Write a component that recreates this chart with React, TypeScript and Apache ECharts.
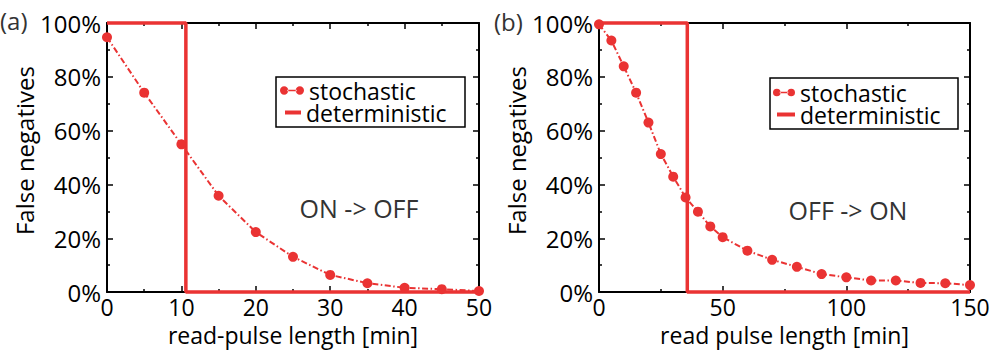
import React, { useEffect, useRef } from "react";
import * as echarts from "echarts";

const FONT = '"Open Sans", "Noto Sans", sans-serif';
const RED = "#ea3333";

// Panel (a): ON -> OFF
const xA = [0, 5, 10, 15, 20, 25, 30, 35, 40, 45, 50];
const stochA = [94.7, 74.1, 54.9, 35.8, 22.3, 13.1, 6.4, 3.3, 1.6, 1.1, 0.4];
const detAx = [0, 10.6, 10.6, 50];
const detAy = [100, 100, 0, 0];

// Panel (b): OFF -> ON
const xB = [0, 5, 10, 15, 20, 25, 30, 35, 40, 45, 50, 60, 70, 80, 90, 100, 110, 120, 130, 140, 150];
const stochB = [99.5, 93.5, 83.9, 74.1, 63.0, 51.3, 42.9, 35.2, 29.9, 24.4, 20.4, 15.4, 12.0, 9.4, 6.7, 5.5, 4.3, 4.3, 3.4, 3.3, 2.6];
const detBx = [0, 35.7, 35.7, 150];
const detBy = [100, 100, 0, 0];

const yTicks = { min: 0, max: 100, interval: 20 };
const xTicksA = { min: 0, max: 50, interval: 10 };
const xTicksB = { min: 0, max: 150, interval: 50 };

const STOCH_ICON =
  "path://M0,5a4.5,4.5 0 1,0 9,0a4.5,4.5 0 1,0 -9,0zM17,5a4.5,4.5 0 1,0 9,0a4.5,4.5 0 1,0 -9,0zM8,4.2h10v1.6h-10z";

const zip = (xs: number[], ys: number[]) => xs.map((x, i) => [x, ys[i]]);

function xAxisPair(grid: number, t: { min: number; max: number; interval: number }, name: string) {
  const common = {
    type: "value" as const,
    gridIndex: grid,
    min: t.min,
    max: t.max,
    interval: t.interval,
    splitLine: { show: false },
    axisLine: { show: true, onZero: false, lineStyle: { color: "#000", width: 2 } },
    axisTick: { show: true, inside: true, length: 6, lineStyle: { color: "#000", width: 1.5 } },
    minorTick: { show: true, splitNumber: 2, length: 3, lineStyle: { color: "#000", width: 1.5 } },
  };
  return [
    {
      ...common,
      position: "bottom",
      name,
      nameLocation: "middle",
      nameGap: 30,
      nameTextStyle: { fontFamily: FONT, fontSize: 23, color: "#000", lineHeight: 21 },
      axisLabel: { show: true, fontFamily: FONT, fontSize: 23, color: "#000", margin: 4, lineHeight: 21 },
    },
    { ...common, position: "top", axisLabel: { show: false } },
  ];
}

function yAxisPair(grid: number) {
  const common = {
    type: "value" as const,
    gridIndex: grid,
    min: yTicks.min,
    max: yTicks.max,
    interval: yTicks.interval,
    splitLine: { show: false },
    axisLine: { show: true, onZero: false, lineStyle: { color: "#000", width: 2 } },
    axisTick: { show: true, inside: true, length: 6, lineStyle: { color: "#000", width: 1.5 } },
    minorTick: { show: true, splitNumber: 2, length: 3, lineStyle: { color: "#000", width: 1.5 } },
  };
  return [
    {
      ...common,
      position: "left",
      name: "False negatives",
      nameLocation: "middle",
      nameRotate: 90,
      nameGap: 66,
      nameTextStyle: { fontFamily: FONT, fontSize: 24, color: "#000", padding: [0, 0, 0, 14] },
      axisLabel: { show: true, fontFamily: FONT, fontSize: 24, color: "#000", margin: 6, formatter: "{value}%" },
    },
    { ...common, position: "right", axisLabel: { show: false } },
  ];
}

function stochSeries(xi: number, yi: number, xs: number[], ys: number[]) {
  return {
    name: "stochastic",
    type: "line",
    xAxisIndex: xi,
    yAxisIndex: yi,
    data: zip(xs, ys),
    color: RED,
    symbol: "circle",
    symbolSize: 10,
    clip: false,
    z: 4,
    itemStyle: { color: RED },
    lineStyle: { color: RED, width: 2, type: [6, 2.5, 1.5, 2.5] },
  };
}

function detSeries(xi: number, yi: number, xs: number[], ys: number[]) {
  return {
    name: "deterministic",
    type: "line",
    xAxisIndex: xi,
    yAxisIndex: yi,
    data: zip(xs, ys),
    color: RED,
    symbol: "none",
    clip: false,
    z: 3,
    itemStyle: { color: RED },
    lineStyle: { color: RED, width: 3.5 },
  };
}

function legend(left: number, top: number, name: string, icon: string, w: number, h: number) {
  return {
    left,
    top,
    padding: 0,
    orient: "vertical",
    selectedMode: false,
    itemWidth: w,
    itemHeight: h,
    data: [{ name, icon }],
    textStyle: { fontFamily: FONT, fontSize: 23, color: "#000", lineHeight: 20 },
  };
}

export default function App() {
  const ref = useRef<HTMLDivElement>(null);
  useEffect(() => {
    if (!ref.current) return;
    const chart = echarts.init(ref.current, undefined, { renderer: "svg" });
    chart.setOption({
      animation: false,
      backgroundColor: "#fff",
      textStyle: { fontFamily: FONT },
      grid: [
        { left: 107, top: 23, width: 372, height: 274 },
        { left: 599, top: 23, width: 371, height: 274 },
      ],
      xAxis: [
        ...xAxisPair(0, xTicksA, "read-pulse length [min]"),
        ...xAxisPair(1, xTicksB, "read pulse length [min]"),
      ],
      yAxis: [...yAxisPair(0), ...yAxisPair(1)],
      legend: [
        legend(280, 79, "stochastic", STOCH_ICON, 24, 9),
        legend(285, 101, "deterministic", "rect", 16, 4),
        legend(773, 81, "stochastic", STOCH_ICON, 22, 9),
        legend(777, 103, "deterministic", "rect", 18, 4),
      ],
      graphic: [
        { type: "rect", shape: { x: 276, y: 77, width: 189, height: 50 }, style: { fill: "none", stroke: "#000", lineWidth: 1.5 }, z: 1 },
        { type: "rect", shape: { x: 770, y: 78, width: 188, height: 51 }, style: { fill: "none", stroke: "#000", lineWidth: 1.5 }, z: 1 },
        { type: "text", x: 0, y: 20, style: { text: "(a)", font: `24px ${FONT}`, fill: "#333", verticalAlign: "middle" } },
        { type: "text", x: 494, y: 21, style: { text: "(b)", font: `24px ${FONT}`, fill: "#333", verticalAlign: "middle" } },
        { type: "text", x: 359, y: 208, style: { text: "ON -> OFF", font: `25px ${FONT}`, fill: "#333", align: "center", verticalAlign: "middle" } },
        { type: "text", x: 848, y: 210, style: { text: "OFF -> ON", font: `25px ${FONT}`, fill: "#333", align: "center", verticalAlign: "middle" } },
      ],
      series: [
        detSeries(0, 0, detAx, detAy),
        stochSeries(0, 0, xA, stochA),
        detSeries(2, 2, detBx, detBy),
        stochSeries(2, 2, xB, stochB),
      ],
    });
    return () => chart.dispose();
  }, []);
  return <div ref={ref} style={{ width: 993, height: 351, position: "absolute", left: 0, top: 0 }} />;
}
